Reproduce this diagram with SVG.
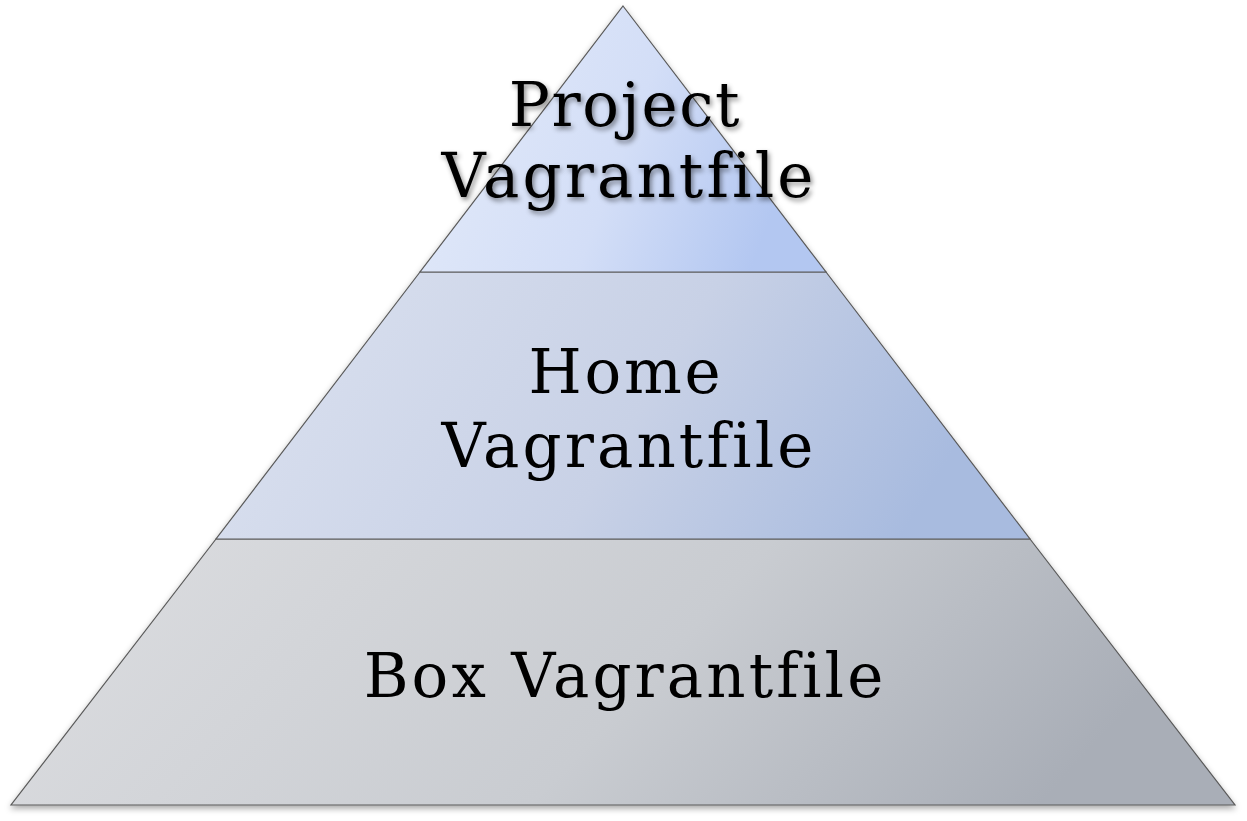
<svg xmlns="http://www.w3.org/2000/svg" width="1247" height="821" viewBox="0 0 1247 821">
<defs>
<linearGradient id="gTop" x1="0" y1="0" x2="1" y2="0.25">
<stop offset="0" stop-color="#e4ebf9"/><stop offset="0.6" stop-color="#d3def7"/><stop offset="1" stop-color="#b3c7f1"/>
</linearGradient>
<linearGradient id="gMid" x1="0" y1="0" x2="1" y2="0.2">
<stop offset="0" stop-color="#dce2f0"/><stop offset="0.6" stop-color="#c8d1e6"/><stop offset="1" stop-color="#a8bbdf"/>
</linearGradient>
<linearGradient id="gBot" x1="0" y1="0" x2="1" y2="0.2">
<stop offset="0" stop-color="#dddee1"/><stop offset="0.6" stop-color="#c9ccd1"/><stop offset="1" stop-color="#a9aeb7"/>
</linearGradient>
<filter id="shadow" x="-10%" y="-10%" width="120%" height="130%">
<feDropShadow dx="0" dy="3" stdDeviation="3" flood-color="#000" flood-opacity="0.35"/>
</filter>
<filter id="tshadow" x="-10%" y="-20%" width="120%" height="150%">
<feDropShadow dx="2" dy="3" stdDeviation="2.5" flood-color="#000" flood-opacity="0.45"/>
</filter>
<style>
.tier{stroke:#5a5a5a;stroke-width:1.2}
.lbl{font-family:"DejaVu Serif","Liberation Serif",serif;font-size:61px;letter-spacing:3.1px;fill:#000;text-anchor:middle}
.sh{filter:url(#tshadow)}
</style>
</defs>
<rect width="1247" height="821" fill="#fff"/>
<g filter="url(#shadow)">
<g id="tier-box">
<polygon class="tier" points="216,539 1030,539 1235,805 11,805" fill="url(#gBot)"/>
</g>
<g id="tier-home">
<polygon class="tier" points="420,272 826,272 1030,539 216,539" fill="url(#gMid)"/>
</g>
<g id="tier-project">
<polygon class="tier" points="623,6 826,272 420,272" fill="url(#gTop)"/>
</g>
</g>
<g id="labels">
<text class="lbl sh" x="626" y="126"><tspan x="625" y="126" letter-spacing="1.7">Project</tspan><tspan x="629" y="197">Vagrantfile</tspan></text>
<text class="lbl" x="626" y="393"><tspan x="626" y="393" letter-spacing="2.8">Home</tspan><tspan x="629" y="467">Vagrantfile</tspan></text>
<text class="lbl" x="625" y="697" letter-spacing="4.4">Box Vagrantfile</text>
</g>
<g id="connectors"/>
</svg>
